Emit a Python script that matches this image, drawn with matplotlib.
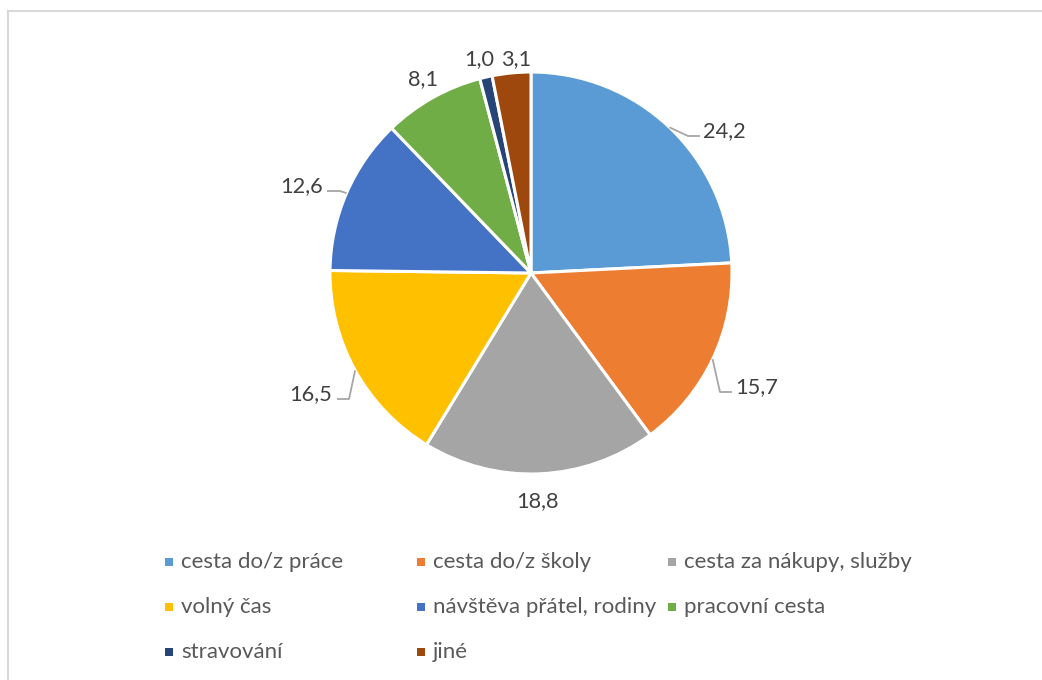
import matplotlib
matplotlib.use("Agg")
import matplotlib.pyplot as plt
import numpy as np
from matplotlib.patches import Rectangle
from matplotlib.lines import Line2D

# ---- data ----
categories = ["cesta do/z práce", "cesta do/z školy", "cesta za nákupy, služby",
              "volný čas", "návštěva přátel, rodiny", "pracovní cesta",
              "stravování", "jiné"]
values = [24.2, 15.7, 18.8, 16.5, 12.6, 8.1, 1.0, 3.1]
value_labels = ["24,2", "15,7", "18,8", "16,5", "12,6", "8,1", "1,0", "3,1"]
colors = ["#5B9BD5", "#ED7D31", "#A5A5A5", "#FFC000",
          "#4472C4", "#70AD47", "#264478", "#9E480E"]

# ---- layout (pixel coordinates, y measured from top) ----
W, H = 1042, 680
CX, CY, R = 531, 273, 201
label_pos = [(724, 137), (757, 393), (537, 507), (311, 400),
             (302, 192), (423, 85), (479, 65), (516, 65)]
# leader elbows: (elbow point, end point) or None
leaders = [((688, 136), (700, 136)), ((720, 392), (732, 392)), None,
           ((349, 399), (337, 399)), ((340, 191), (327, 191)), None, None, None]

plt.rcParams['font.family'] = ['Lato', 'DejaVu Sans']

fig = plt.figure(figsize=(W / 100, H / 100), dpi=100)
ax = fig.add_axes([0, 0, 1, 1])

def py(y):
    return H - y

wedges, _ = ax.pie(values, colors=colors, startangle=90, counterclock=False,
                   radius=R, center=(CX, py(CY)),
                   wedgeprops=dict(edgecolor="white", linewidth=2.2))
ax.set_xlim(0, W)
ax.set_ylim(0, H)
ax.set_aspect("equal")
ax.axis("off")

# frame (left and top border)
ax.add_line(Line2D([8, 8], [0, py(11)], color="#D9D9D9", lw=1.5))
ax.add_line(Line2D([8, W], [py(11), py(11)], color="#D9D9D9", lw=1.5))

# data labels with leader lines
total = sum(values)
cum = 0.0
for i, v in enumerate(values):
    mid = 90 - 360 * (cum + v / 2) / total
    cum += v
    lx, ly = label_pos[i]
    ax.text(lx, py(ly), value_labels[i], ha="center", va="baseline",
            fontsize=15.7, color="#404040")
    if leaders[i] is not None:
        sx = CX + R * np.cos(np.radians(mid))
        sy = py(CY) + R * np.sin(np.radians(mid))
        (ex, ey), (fx, fy) = leaders[i]
        ax.plot([sx, ex, fx], [sy, py(ey), py(fy)], color="#A6A6A6", lw=1.3,
                solid_capstyle="butt")

# legend (3 columns)
col_x = [165, 417, 668]
row_y = [568, 613, 658]
msize = 8
for i, (cat, col) in enumerate(zip(categories, colors)):
    r, c = divmod(i, 3)
    mx, my = col_x[c], row_y[r]
    ax.add_patch(Rectangle((mx, py(my - 2)), msize, msize, facecolor=col,
                           edgecolor="none"))
    ax.text(mx + 16, py(my), cat, ha="left", va="baseline",
            fontsize=16, color="#595959")

fig.savefig("out.png", dpi=100)
